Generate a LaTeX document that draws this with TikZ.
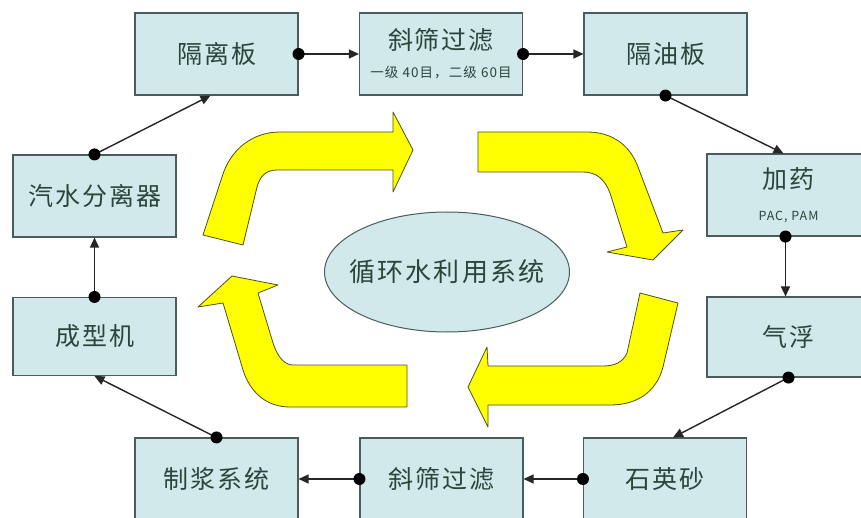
\documentclass[tikz,border=0pt]{standalone}
\usepackage{fontspec}
\setmainfont{Noto Sans CJK SC}
\newfontfamily\cjk[LetterSpace=8]{Noto Sans CJK SC}
\usetikzlibrary{shapes.geometric,arrows.meta}
\definecolor{boxfill}{RGB}{210,233,236}
\definecolor{boxline}{RGB}{75,92,92}
\definecolor{boxtext}{RGB}{42,70,58}
\definecolor{arrfill}{RGB}{255,255,0}
\definecolor{arrline}{RGB}{80,80,25}
\tikzset{
  procbox/.style={draw=boxline, line width=1.1pt, fill=boxfill, text=boxtext,
    minimum width=163pt, minimum height=82pt, inner sep=0pt, align=center,
    font=\cjk\fontsize{25}{30}\selectfont},
  conn/.style={line width=1.4pt, draw=black!85, -{Triangle[length=10pt,width=9pt]}},
  dotmark/.style={fill=black, draw=none},
  bigarrow/.style={fill=arrfill, draw=arrline, line width=0.8pt, line join=round}
}
\begin{document}
\begin{tikzpicture}[x=1pt,y=-1pt]
\useasboundingbox (0,0) rectangle (861,518);
\fill[white] (0,0) rectangle (861,518);
\begin{scope}
\clip (0,0) rectangle (861,518);
% yellow arrows
\draw[bigarrow] (203,235) -- (222,177) .. controls (230,150) and (252,132) .. (280,132) -- (393,132) -- (393,112) -- (413,150) -- (393,192) -- (393,170) -- (277,170) .. controls (266,170) and (260,176) .. (257,187) -- (243,245) -- cycle;
\draw[bigarrow] (478,132) -- (587,132) .. controls (612,132) and (630,145) .. (638,167) -- (663,233) -- (683,230) -- (653,260) -- (607,252) -- (627,247) -- (610,193) .. controls (605,180) and (597,172) .. (583,172) -- (478,172) -- cycle;
\draw[bigarrow] (640,293) -- (678,303) -- (663,367) .. controls (656,393) and (636,405) .. (610,405) -- (488,405) -- (488,427) -- (468,387) -- (487,347) -- (488,366) -- (603,366) .. controls (615,366) and (623,362) .. (627,353) -- cycle;
\draw[bigarrow] (407,365) -- (407,407) -- (290,407) .. controls (266,407) and (250,392) .. (243,370) -- (223,303) -- (198,307) -- (232,276) -- (278,285) -- (258,293) -- (273,343) .. controls (278,358) and (285,365) .. (293,365) -- cycle;
% centre ellipse
\node[ellipse, draw=boxline, line width=1pt, fill=boxfill,
  minimum width=245pt, minimum height=120pt, inner sep=0pt,
  label={[text=boxtext, font=\cjk\fontsize{26}{30}\selectfont]center:循环水利用系统}] (center) at (447,272) {};
% boxes
\node[procbox] (gelb) at (216.5,54) {隔离板};
\node[procbox] (xs1) at (441,54) {斜筛过滤\\[-2pt]{\fontsize{13.5}{15}\selectfont 一级 40目，二级 60目}};
\node[procbox] (gyb) at (665.5,54) {隔油板};
\node[procbox] (jy) at (788.5,195) {加药\\[2pt]{\fontsize{12.5}{14}\selectfont PAC, PAM}};
\node[procbox, minimum height=80pt] (qf) at (788.5,337) {气浮};
\node[procbox] (sys) at (665,479) {石英砂};
\node[procbox] (xs2) at (441.5,479) {斜筛过滤};
\node[procbox] (zj) at (216.5,479) {制浆系统};
\node[procbox, minimum height=78pt] (cx) at (94.5,336.5) {成型机};
\node[procbox] (qs) at (94.5,196) {汽水分离器};
% connectors
\draw[conn] (gelb.east) -- (xs1.west);
\draw[conn] (xs1.east) -- (gyb.west);
\draw[conn] (gyb.south) -- ([xshift=-5pt]jy.north);
\draw[conn] ([xshift=-3pt]jy.south) -- ([xshift=-3pt]qf.north);
\draw[conn] (qf.south) -- ([xshift=8pt]sys.north);
\draw[conn] (sys.west) -- (xs2.east);
\draw[conn] (xs2.west) -- (zj.east);
\draw[conn] (zj.north) -- (cx.south);
\draw[conn] (cx.north) -- (qs.south);
\draw[conn] (qs.north) -- ([xshift=-6pt]gelb.south);
% dots
\fill[dotmark] (gelb.east) circle (6pt);
\fill[dotmark] (xs1.east) circle (6pt);
\fill[dotmark] (gyb.south) circle (6pt);
\fill[dotmark] ([xshift=-3pt]jy.south) circle (6pt);
\fill[dotmark] (qf.south) circle (6pt);
\fill[dotmark] (sys.west) circle (6pt);
\fill[dotmark] (xs2.west) circle (6pt);
\fill[dotmark] (zj.north) circle (6pt);
\fill[dotmark] (cx.north) circle (6pt);
\fill[dotmark] (qs.north) circle (6pt);
\end{scope}
\end{tikzpicture}
\end{document}
